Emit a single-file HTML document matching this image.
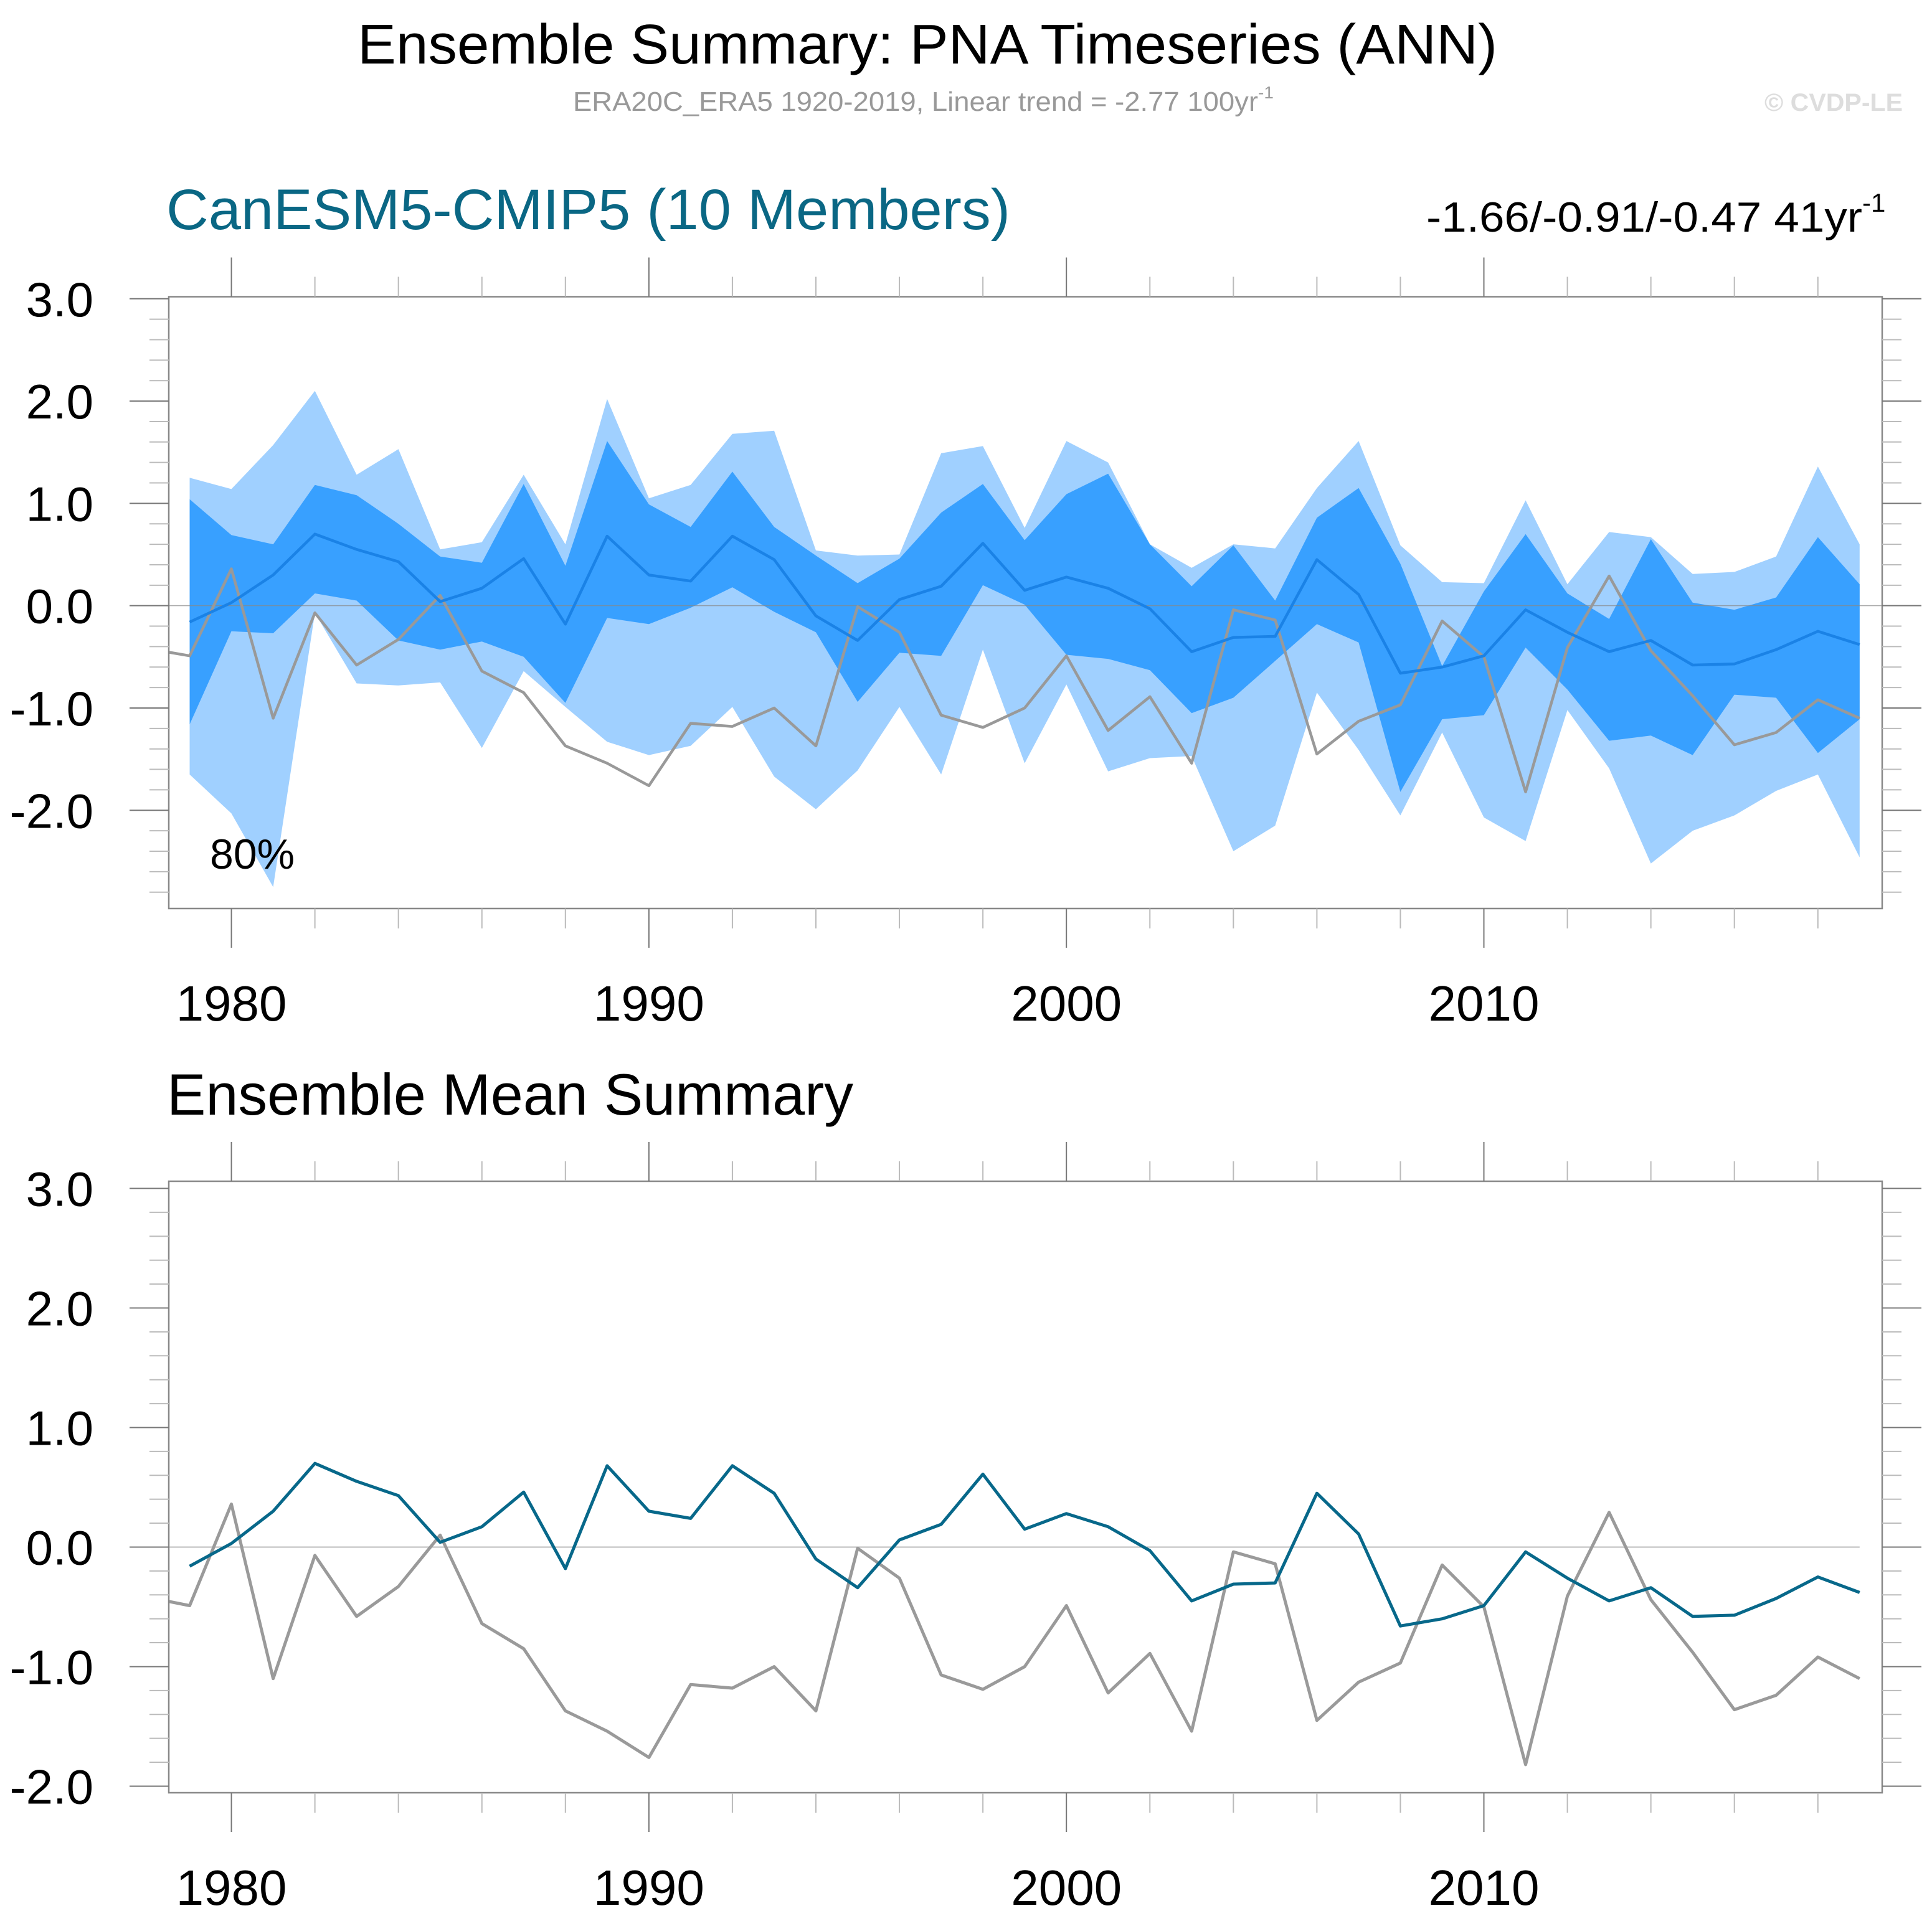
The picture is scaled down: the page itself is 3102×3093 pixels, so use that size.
<!DOCTYPE html>
<html><head><meta charset="utf-8"><style>
html,body{margin:0;padding:0;background:#fff;}
svg{display:block;font-family:"Liberation Sans",Arial,sans-serif;}
</style></head><body>
<svg id="chart" width="3102" height="3093" viewBox="0 0 3102 3093" xmlns="http://www.w3.org/2000/svg">
<defs>
<clipPath id="clipTop"><rect x="271" y="476" width="2751" height="983"/></clipPath>
<clipPath id="clipBot"><rect x="271" y="1897" width="2751" height="982"/></clipPath>
</defs>
<text x="574" y="102" font-size="90" textLength="1830" lengthAdjust="spacingAndGlyphs">Ensemble Summary: PNA Timeseries (ANN)</text>
<text x="920" y="178" font-size="44" fill="#999"><tspan textLength="1100" lengthAdjust="spacingAndGlyphs">ERA20C_ERA5 1920-2019, Linear trend = -2.77 100yr</tspan><tspan font-size="28" dy="-20">-1</tspan></text>
<text x="2833" y="178" font-size="40" font-weight="bold" fill="#ddd" textLength="222" lengthAdjust="spacingAndGlyphs">© CVDP-LE</text>
<text x="267" y="368" font-size="92" fill="#0a6784" textLength="1355" lengthAdjust="spacingAndGlyphs">CanESM5-CMIP5 (10 Members)</text>
<text x="2290" y="372" font-size="68"><tspan textLength="700" lengthAdjust="spacingAndGlyphs">-1.66/-0.91/-0.47 41yr</tspan><tspan font-size="42" dy="-32">-1</tspan></text>
<text x="268" y="1790" font-size="94" textLength="1102" lengthAdjust="spacingAndGlyphs">Ensemble Mean Summary</text>
<g id="top"></g>
<g id="bot"></g>
</svg>
<script>
const years = [1979,1980,1981,1982,1983,1984,1985,1986,1987,1988,1989,1990,1991,1992,1993,1994,1995,1996,1997,1998,1999,2000,2001,2002,2003,2004,2005,2006,2007,2008,2009,2010,2011,2012,2013,2014,2015,2016,2017,2018,2019];
const ensMean = [-0.16,0.03,0.30,0.70,0.55,0.43,0.04,0.17,0.46,-0.18,0.68,0.30,0.24,0.68,0.45,-0.10,-0.34,0.06,0.19,0.61,0.15,0.28,0.17,-0.03,-0.45,-0.31,-0.30,0.45,0.11,-0.66,-0.60,-0.49,-0.04,-0.26,-0.45,-0.34,-0.58,-0.57,-0.43,-0.25,-0.38];
const obsYears = [1978,1979,1980,1981,1982,1983,1984,1985,1986,1987,1988,1989,1990,1991,1992,1993,1994,1995,1996,1997,1998,1999,2000,2001,2002,2003,2004,2005,2006,2007,2008,2009,2010,2011,2012,2013,2014,2015,2016,2017,2018,2019];
const obs = [-0.42,-0.49,0.36,-1.10,-0.07,-0.58,-0.33,0.10,-0.64,-0.85,-1.37,-1.54,-1.76,-1.15,-1.18,-1.00,-1.37,-0.01,-0.26,-1.07,-1.19,-1.00,-0.49,-1.22,-0.89,-1.54,-0.04,-0.14,-1.45,-1.13,-0.97,-0.15,-0.50,-1.82,-0.41,0.29,-0.44,-0.88,-1.36,-1.24,-0.92,-1.10];
const p25 = [-1.16,-0.25,-0.27,0.12,0.05,-0.34,-0.43,-0.35,-0.50,-0.95,-0.12,-0.18,-0.02,0.18,-0.06,-0.26,-0.94,-0.46,-0.49,0.20,0.01,-0.48,-0.52,-0.63,-1.05,-0.90,-0.54,-0.18,-0.36,-1.82,-1.11,-1.07,-0.41,-0.82,-1.32,-1.27,-1.46,-0.87,-0.90,-1.44,-1.11];
const p75 = [1.04,0.69,0.60,1.18,1.08,0.80,0.48,0.42,1.19,0.39,1.61,0.99,0.77,1.31,0.77,0.49,0.22,0.46,0.91,1.19,0.64,1.09,1.29,0.60,0.19,0.59,0.05,0.86,1.15,0.41,-0.59,0.14,0.70,0.12,-0.13,0.65,0.03,-0.04,0.08,0.67,0.21];
const p10 = [-1.65,-2.03,-2.75,-0.07,-0.76,-0.78,-0.75,-1.39,-0.64,-0.99,-1.33,-1.46,-1.37,-0.99,-1.67,-1.99,-1.61,-0.99,-1.65,-0.43,-1.54,-0.77,-1.62,-1.49,-1.47,-2.40,-2.15,-0.85,-1.41,-2.05,-1.24,-2.07,-2.30,-1.02,-1.59,-2.52,-2.20,-2.05,-1.81,-1.65,-2.46];
const p90 = [1.25,1.14,1.57,2.10,1.28,1.53,0.55,0.62,1.28,0.60,2.02,1.05,1.18,1.68,1.71,0.54,0.49,0.50,1.49,1.56,0.76,1.61,1.40,0.60,0.37,0.60,0.56,1.15,1.61,0.59,0.23,0.22,1.03,0.21,0.72,0.67,0.31,0.33,0.48,1.36,0.60];
const yTickLabels = ["3.0","2.0","1.0","0.0","-1.0","-2.0"];
const yTickValues = [3,2,1,0,-1,-2];
const xTickLabels = ["1980","1990","2000","2010"];
const xTickValues = [1980,1990,2000,2010];

const NS="http://www.w3.org/2000/svg";
const X0=271, X1=3022, XMIN=1978.5, XMAX=2019.54;
function xs(yr){return X0+(yr-XMIN)/(XMAX-XMIN)*(X1-X0);}
const panels={top:{y0:476.5,y1:1459,vmax:3.02,vmin:-2.96,g:document.getElementById('top'),clip:'clipTop',minorMin:-2.8},
              bot:{y0:1897,y1:2879,vmax:3.06,vmin:-2.055,g:document.getElementById('bot'),clip:'clipBot',minorMin:-2.0}};
function ysF(p){return v=>p.y0+(p.vmax-v)/(p.vmax-p.vmin)*(p.y1-p.y0);}
function mk(tag,attrs,parent){const e=document.createElementNS(NS,tag);for(const k in attrs)e.setAttribute(k,attrs[k]);parent.appendChild(e);return e;}
function pts(xsArr,vals,ys){return xsArr.map((yr,i)=>xs(yr).toFixed(1)+','+ys(vals[i]).toFixed(1)).join(' ');}

function axes(p,key){
  const ys=ysF(p), g=p.g;
  const box=mk('rect',{x:X0,y:p.y0,width:X1-X0,height:p.y1-p.y0,fill:'none',stroke:'#888','stroke-width':2.5},g);
  
  
  for(let yr=1980; yr<=2018; yr+=2){
    const major = xTickValues.indexOf(yr)>=0;
    const len = major?63:32, col = major?'#777':'#bbb';
    const t1=mk('line',{x1:xs(yr),x2:xs(yr),y1:p.y0,y2:p.y0-len,stroke:col,'stroke-width':2},g);
    
    
    const t2=mk('line',{x1:xs(yr),x2:xs(yr),y1:p.y1,y2:p.y1+len,stroke:col,'stroke-width':2},g);
    
    
  }
  for(let k=30; k>=Math.round(p.minorMin*10); k-=2){
    const v=k/10, major=(k%10===0), len=major?63:31, col=major?'#777':'#bbb';
    const l=mk('line',{x1:X0,x2:X0-len,y1:ys(v),y2:ys(v),stroke:col,'stroke-width':2},g);
    
    
    const r=mk('line',{x1:X1,x2:X1+len,y1:ys(v),y2:ys(v),stroke:col,'stroke-width':2},g);
    
    
  }
  yTickValues.forEach((v,i)=>{
    const t=mk('text',{x:150,y:ys(v)+28,'font-size':78,'text-anchor':'end'},g);
    t.textContent=yTickLabels[i];
    
    
  });
  xTickValues.forEach((v,i)=>{
    const t=mk('text',{x:xs(v),y:p.y1+180,'font-size':80,'text-anchor':'middle'},g);
    t.textContent=xTickLabels[i];
    
    
  });
}

(function(){
  const p=panels.top, ys=ysF(p), g=p.g;
  const cg=mk('g',{'clip-path':'url(#clipTop)'},g);
  
  
  const outer=mk('polygon',{points:pts(years,p90,ys)+' '+pts(years.slice().reverse(),p10.slice().reverse(),ys),fill:'#a0d0ff'},cg);
  
  
  const inner=mk('polygon',{points:pts(years,p75,ys)+' '+pts(years.slice().reverse(),p25.slice().reverse(),ys),fill:'#38a0ff'},cg);
  
  
  const zl=mk('line',{x1:X0,x2:X1,y1:ys(0),y2:ys(0),stroke:'#888','stroke-width':1.5,'stroke-opacity':0.7},cg);
  
  
  const ol=mk('polyline',{points:pts(obsYears,obs,ys),fill:'none',stroke:'#999','stroke-width':4.5,'stroke-linejoin':'round'},cg);
  
  
  const ml=mk('polyline',{points:pts(years,ensMean,ys),fill:'none',stroke:'#1a82e6','stroke-width':4.5,'stroke-linejoin':'round'},cg);
  
  
  axes(p,'top');
  const lab=mk('text',{x:337,y:1395,'font-size':68},g);
  lab.textContent='80%';
  
  
})();

(function(){
  const p=panels.bot, ys=ysF(p), g=p.g;
  const cg=mk('g',{'clip-path':'url(#clipBot)'},g);
  
  
  const zl=mk('line',{x1:X0,x2:xs(2019),y1:ys(0),y2:ys(0),stroke:'#bbb','stroke-width':2},cg);
  
  
  const ol=mk('polyline',{points:pts(obsYears,obs,ys),fill:'none',stroke:'#9a9a9a','stroke-width':5,'stroke-linejoin':'round'},cg);
  
  
  const ml=mk('polyline',{points:pts(years,ensMean,ys),fill:'none',stroke:'#07688a','stroke-width':5,'stroke-linejoin':'round'},cg);
  
  
  axes(p,'bottom');
})();
</script>
</body></html>
